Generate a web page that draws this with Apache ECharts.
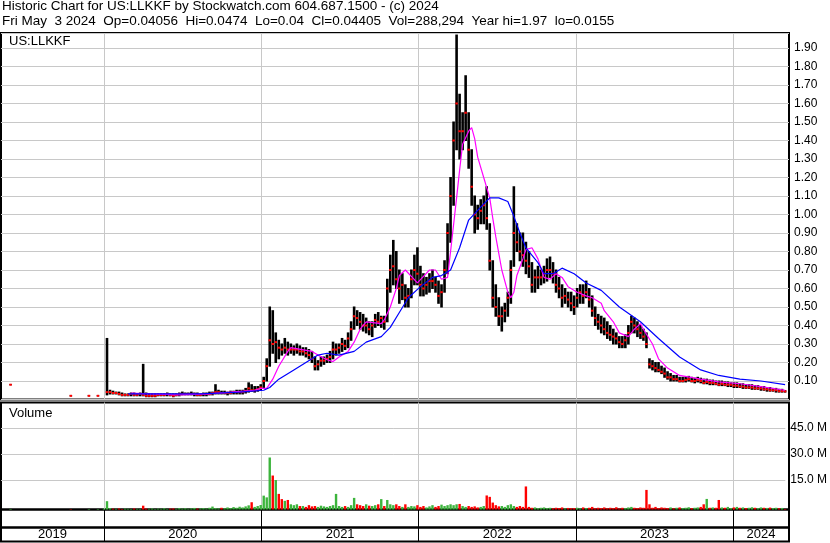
<!DOCTYPE html>
<html>
<head>
<meta charset="utf-8">
<script src="https://cdn.jsdelivr.net/npm/echarts@6/dist/echarts.min.js"></script>
<style>
body { margin: 0; background: #fff; }
#main { width: 830px; height: 543px; }
</style>
</head>
<body>
<div id="main"></div>
<script>
// weekly bars, week 0 = week of 2019-05-06 (plotted on the Wednesday)
var weekHi = [
  null,null,null,0.08,null,null,null,null,null,null,
  null,null,null,null,null,null,null,null,null,null,
  null,null,null,0.02,null,null,null,null,null,0.02,
  null,null,0.02,null,null,0.33,0.05,0.045,0.04,0.04,
  0.035,0.03,0.03,0.035,0.035,0.03,0.035,0.19,0.035,0.03,
  0.03,0.03,0.03,0.03,0.03,0.035,0.03,0.03,0.03,0.035,
  0.04,0.035,0.035,0.04,0.035,0.035,0.03,0.035,0.035,0.04,
  0.04,0.08,0.05,0.045,0.045,0.04,0.045,0.045,0.05,0.05,
  0.05,0.06,0.09,0.08,0.07,0.07,0.08,0.12,0.22,0.50,
  0.48,0.36,0.32,0.30,0.33,0.31,0.30,0.29,0.30,0.29,
  0.28,0.28,0.27,0.26,0.23,0.21,0.23,0.23,0.24,0.26,
  0.31,0.30,0.30,0.33,0.32,0.36,0.42,0.50,0.48,0.47,
  0.46,0.44,0.42,0.42,0.46,0.47,0.45,0.45,0.65,0.78,
  0.86,0.80,0.70,0.68,0.62,0.60,0.70,0.78,0.82,0.72,
  0.68,0.66,0.68,0.70,0.66,0.64,0.62,0.75,0.95,1.20,
  1.50,1.97,1.65,1.55,1.75,1.55,1.35,1.10,1.05,1.08,
  1.10,1.15,0.95,0.75,0.62,0.55,0.50,0.52,0.58,0.75,
  1.15,0.95,0.90,0.90,0.85,0.80,0.74,0.70,0.72,0.70,
  0.72,0.76,0.77,0.74,0.70,0.66,0.62,0.60,0.58,0.58,
  0.56,0.60,0.62,0.62,0.64,0.60,0.56,0.50,0.46,0.45,
  0.44,0.42,0.40,0.38,0.36,0.34,0.34,0.35,0.40,0.45,
  0.44,0.42,0.40,0.38,0.36,0.22,0.21,0.20,0.20,0.18,
  0.17,0.15,0.14,0.13,0.13,0.12,0.12,0.12,0.125,0.12,
  0.115,0.12,0.115,0.11,0.11,0.105,0.105,0.10,0.10,0.10,
  0.095,0.095,0.09,0.09,0.09,0.085,0.085,0.08,0.08,0.08,
  0.075,0.075,0.07,0.07,0.065,0.065,0.06,0.06,0.055,0.055,0.0474
];
var weekLo = [
  null,null,null,0.08,null,null,null,null,null,null,
  null,null,null,null,null,null,null,null,null,null,
  null,null,null,0.02,null,null,null,null,null,0.02,
  null,null,0.02,null,null,0.025,0.03,0.03,0.03,0.025,
  0.02,0.02,0.02,0.02,0.02,0.02,0.02,0.02,0.015,0.015,
  0.015,0.015,0.02,0.02,0.02,0.02,0.02,0.015,0.02,0.02,
  0.025,0.025,0.025,0.025,0.02,0.02,0.02,0.02,0.02,0.025,
  0.025,0.03,0.03,0.03,0.03,0.025,0.03,0.03,0.03,0.03,
  0.03,0.035,0.04,0.045,0.04,0.045,0.05,0.06,0.10,0.18,
  0.25,0.20,0.22,0.24,0.25,0.24,0.25,0.24,0.25,0.24,
  0.24,0.23,0.22,0.20,0.16,0.16,0.18,0.19,0.20,0.20,
  0.22,0.24,0.25,0.26,0.27,0.28,0.32,0.38,0.40,0.38,
  0.37,0.36,0.35,0.34,0.39,0.40,0.39,0.38,0.42,0.58,
  0.62,0.60,0.52,0.54,0.50,0.50,0.55,0.62,0.62,0.56,
  0.56,0.57,0.58,0.60,0.58,0.52,0.50,0.58,0.68,0.85,
  1.05,1.35,1.30,1.35,1.40,1.25,1.05,0.90,0.92,0.95,
  0.95,0.92,0.70,0.50,0.45,0.40,0.37,0.42,0.45,0.52,
  0.72,0.80,0.75,0.72,0.68,0.66,0.58,0.58,0.60,0.62,
  0.63,0.64,0.66,0.63,0.58,0.55,0.50,0.52,0.50,0.48,
  0.46,0.50,0.52,0.52,0.55,0.50,0.45,0.40,0.38,0.36,
  0.35,0.33,0.32,0.30,0.30,0.28,0.28,0.28,0.30,0.36,
  0.36,0.34,0.33,0.32,0.28,0.17,0.16,0.15,0.15,0.14,
  0.12,0.11,0.10,0.10,0.10,0.095,0.095,0.095,0.10,0.095,
  0.09,0.095,0.09,0.085,0.085,0.08,0.08,0.08,0.075,0.075,
  0.075,0.07,0.07,0.065,0.065,0.065,0.06,0.06,0.06,0.055,
  0.055,0.055,0.05,0.05,0.045,0.045,0.045,0.04,0.04,0.04,0.04
];
var weekCl = [
  null,null,null,0.08,null,null,null,null,null,null,
  null,null,null,null,null,null,null,null,null,null,
  null,null,null,0.02,null,null,null,null,null,0.02,
  null,null,0.02,null,null,0.04,0.04,0.035,0.035,0.03,
  0.025,0.025,0.025,0.03,0.025,0.025,0.03,0.025,0.02,0.02,
  0.02,0.02,0.025,0.025,0.025,0.03,0.025,0.02,0.025,0.03,
  0.03,0.03,0.03,0.03,0.03,0.025,0.025,0.03,0.03,0.03,
  0.035,0.04,0.04,0.035,0.035,0.035,0.035,0.04,0.04,0.04,
  0.04,0.045,0.06,0.05,0.05,0.055,0.065,0.10,0.18,0.32,
  0.30,0.31,0.28,0.27,0.28,0.27,0.27,0.27,0.27,0.26,
  0.26,0.25,0.24,0.22,0.18,0.19,0.21,0.21,0.22,0.23,
  0.27,0.27,0.28,0.30,0.29,0.33,0.38,0.45,0.44,0.42,
  0.40,0.40,0.38,0.40,0.43,0.42,0.44,0.42,0.60,0.70,
  0.72,0.65,0.60,0.62,0.55,0.56,0.65,0.70,0.68,0.62,
  0.60,0.62,0.64,0.64,0.62,0.56,0.58,0.70,0.90,1.10,
  1.40,1.60,1.45,1.45,1.55,1.35,1.15,1.00,0.98,1.02,
  1.05,0.98,0.75,0.55,0.50,0.45,0.45,0.48,0.55,0.70,
  0.90,0.85,0.80,0.78,0.75,0.72,0.62,0.66,0.66,0.66,
  0.68,0.70,0.70,0.68,0.62,0.60,0.55,0.56,0.54,0.52,
  0.50,0.55,0.58,0.56,0.58,0.54,0.48,0.44,0.42,0.40,
  0.38,0.36,0.35,0.34,0.33,0.31,0.30,0.32,0.36,0.42,
  0.40,0.38,0.36,0.34,0.30,0.19,0.18,0.17,0.16,0.15,
  0.14,0.12,0.12,0.11,0.11,0.10,0.10,0.105,0.11,0.10,
  0.10,0.105,0.10,0.09,0.095,0.09,0.09,0.085,0.08,0.085,
  0.08,0.08,0.08,0.075,0.075,0.07,0.07,0.065,0.065,0.065,
  0.06,0.06,0.06,0.055,0.055,0.05,0.05,0.05,0.045,0.045,0.04405
];
// volume, millions (tallest daily bar of the week)
var weekVol = [
  0,0,0,0.3,0,0,0,0,0,0,
  0,0,0,0,0,0,0,0,0,0,
  0,0,0,0.2,0,0,0,0,0,0.3,
  0,0,0.3,0,0.5,4.8,0.8,0.5,0.4,0.6,
  0.3,0.5,0.4,0.3,0.6,0.4,0.3,2.2,0.5,0.4,
  0.6,0.3,0.5,0.4,0.7,0.3,0.5,0.6,0.4,0.8,
  0.5,0.7,0.4,0.6,0.9,0.5,0.6,0.8,0.5,1.0,
  1.7,0.8,0.6,1.0,0.7,1.2,0.8,1.4,1.0,1.6,
  1.2,1.8,2.4,4.2,1.5,2.0,2.6,8.0,7.0,30.0,
  19.6,17.0,9.0,6.0,5.0,5.5,3.0,2.5,3.0,2.0,
  2.0,1.5,2.5,1.8,2.0,1.5,2.2,1.8,1.5,2.0,
  2.5,9.0,2.0,1.5,2.0,1.5,2.5,6.7,3.0,2.5,
  2.0,3.0,2.2,2.0,2.5,3.0,6.0,2.0,5.5,3.0,
  2.5,3.0,2.0,1.5,3.0,1.5,2.0,1.8,2.5,1.5,
  2.0,1.2,1.8,2.5,1.5,2.0,2.8,2.0,2.5,3.0,
  2.5,3.0,3.2,2.0,1.5,2.0,1.5,1.8,1.2,1.5,
  2.0,8.1,7.3,4.0,2.5,1.8,2.0,1.5,2.5,3.0,
  2.0,1.5,2.0,1.5,13.3,1.5,1.0,1.2,0.8,1.0,
  1.2,0.8,1.0,0.7,1.0,0.8,1.2,0.6,0.9,0.7,
  0.8,1.0,0.6,1.2,0.8,1.0,1.5,0.7,1.0,0.8,
  1.2,0.7,1.0,0.8,1.3,0.6,1.0,0.8,1.2,1.5,
  1.0,0.8,1.2,1.0,11.3,3.0,1.0,1.5,0.8,1.2,
  1.0,0.8,1.2,0.7,1.0,1.2,0.8,1.0,1.3,0.8,
  1.0,1.2,1.5,3.0,6.1,1.0,1.2,1.0,5.5,1.2,
  1.0,1.5,0.8,1.2,1.5,1.0,1.2,0.8,1.0,1.3,
  1.0,0.8,1.2,1.0,0.9,1.1,0.8,1.0,0.7,0.9,0.3
];
// moving averages (week index, price)
var pinkWeek = [43,49,59,69,76,84,86,88,90,92,95,96,103,105,108,110,112,115,117,119,121,126,127,129,131,132,134,138,142,144,146,148,149,151,152,153,155,156,157,158,160,162,163,164,166,168,169,170,171,173,174,176,178,180,182,184,186,188,191,194,196,199,200,203,205,208,210,212,213,216,218,221,225,232,238,245,252,260];
var pinkVal = [0.035,0.03,0.025,0.03,0.04,0.05,0.06,0.06,0.11,0.18,0.26,0.28,0.26,0.24,0.215,0.205,0.23,0.26,0.31,0.38,0.42,0.41,0.43,0.50,0.60,0.67,0.70,0.63,0.70,0.70,0.65,0.66,0.80,1.09,1.24,1.38,1.45,1.47,1.41,1.31,1.20,1.09,0.98,0.88,0.70,0.58,0.55,0.58,0.67,0.76,0.81,0.82,0.76,0.66,0.65,0.68,0.66,0.61,0.58,0.56,0.55,0.52,0.48,0.42,0.36,0.34,0.38,0.41,0.38,0.30,0.22,0.17,0.13,0.11,0.095,0.085,0.07,0.05];
var blueWeek = [42,66,79,87,89,92,97,101,105,108,112,117,121,126,129,132,135,139,143,146,149,152,155,159,162,165,168,170,172,174,178,180,183,186,190,194,199,205,212,218,225,232,238,245,252,260];
var blueVal = [0.03,0.03,0.04,0.05,0.065,0.11,0.16,0.20,0.24,0.25,0.24,0.26,0.31,0.34,0.39,0.47,0.55,0.61,0.66,0.67,0.70,0.82,0.97,1.04,1.09,1.09,1.07,0.99,0.90,0.82,0.74,0.68,0.68,0.71,0.68,0.63,0.59,0.50,0.42,0.33,0.23,0.16,0.13,0.11,0.10,0.08];
var yearNames = ['2019','2020','2021','2022','2023','2024'];
var volTicks = [15, 30, 45];

var DAY = 86400000;
var firstWeek = Date.UTC(2019, 4, 8);
function weekTime(i) { return firstWeek + i * 7 * DAY; }
var xMin = Date.UTC(2019, 4, 6, 19);
var xMax = Date.UTC(2024, 4, 10, 2);

var yearStarts = [];
var yearMids = [];
yearNames.forEach(function (y) {
  var s = Math.max(Date.UTC(+y, 0, 1), xMin);
  var e = Math.min(Date.UTC(+y + 1, 0, 1), xMax);
  if (+y > 2019) yearStarts.push(Date.UTC(+y, 0, 1));
  yearMids.push((s + e) / 2);
});

var priceData = [];
var volData = [];
var lastCl = null;
for (var i = 0; i < weekHi.length; i++) {
  var t = weekTime(i);
  if (weekHi[i] != null) priceData.push([t, weekHi[i], weekLo[i], weekCl[i]]);
  var up = true;
  if (weekCl[i] != null) {
    if (lastCl != null && weekCl[i] < lastCl) up = false;
    lastCl = weekCl[i];
  }
  if (weekVol[i] > 0) {
    volData.push({ value: [t, weekVol[i]], itemStyle: { color: up ? '#3cb43c' : '#ff0000' } });
  }
}
var pinkData = pinkWeek.map(function (w, k) { return [weekTime(w), pinkVal[k]]; });
var blueData = blueWeek.map(function (w, k) { return [weekTime(w), blueVal[k]]; });

var FONT = 'Liberation Sans, Arial, sans-serif';
var GRIDC = '#c8c8c8';

// x axes are plain value axes holding UTC timestamps
function dateAxis(gi, splitColor, labels) {
  var ax = {
    type: 'value', gridIndex: gi, min: xMin, max: xMax,
    axisLine: { show: false },
    axisTick: { show: false, customValues: yearStarts },
    splitLine: { show: !!splitColor, lineStyle: { color: splitColor || '#000', width: 1 } },
    axisLabel: { show: false }
  };
  if (labels) {
    ax.axisLabel = {
      show: true, inside: true, margin: 0, customValues: yearMids,
      formatter: function (v) { return String(new Date(v).getUTCFullYear()); },
      color: '#000', fontSize: 13, fontFamily: FONT, verticalAlign: 'bottom', lineHeight: 14
    };
  }
  return ax;
}
function hiddenY(gi, max) {
  return { type: 'value', gridIndex: gi, min: 0, max: max, show: false, splitLine: { show: false } };
}

var myChart = echarts.init(document.getElementById('main'));
var titleStyle = { fontSize: 13, fontWeight: 'normal', color: '#000', fontFamily: FONT };
var headStyle = { fontSize: 13.5, fontWeight: 'normal', color: '#000', fontFamily: FONT };
var option = {
  animation: false,
  backgroundColor: '#fff',
  title: [
    { text: 'Historic Chart for US:LLKKF by Stockwatch.com 604.687.1500 - (c) 2024', left: 2, top: -1, padding: 0, textStyle: headStyle },
    { text: 'Fri May  3 2024  Op=0.04056  Hi=0.0474  Lo=0.04  Cl=0.04405  Vol=288,294  Year hi=1.97  lo=0.0155', left: 2, top: 14, padding: 0, textStyle: headStyle },
    { text: 'US:LLKKF', left: 9, top: 35, padding: 0, textStyle: titleStyle },
    { text: 'Volume', left: 9, top: 407, padding: 0, textStyle: titleStyle }
  ],
  grid: [
    { left: 1, right: 41, top: 33, height: 366.5, show: true, borderColor: '#000', borderWidth: 2, backgroundColor: 'transparent' },
    { left: 1, right: 41, top: 402.5, height: 107, show: true, borderColor: '#000', borderWidth: 2, backgroundColor: 'transparent' },
    { left: 1, right: 41, top: 402.5, height: 103.5, show: false },
    { left: 1, right: 41, top: 509.5, height: 18, show: true, borderColor: '#000', borderWidth: 2, backgroundColor: 'transparent' },
    { left: 1, right: 41, top: 527.5, height: 14, show: true, borderColor: '#000', borderWidth: 2, backgroundColor: 'transparent' }
  ],
  xAxis: [
    dateAxis(0, GRIDC, false),
    dateAxis(1, GRIDC, false),
    dateAxis(2, null, false),
    dateAxis(3, '#000', false),
    dateAxis(4, '#000', true)
  ],
  yAxis: [
    {
      type: 'value', gridIndex: 0, position: 'right', min: 0, max: 1.981, interval: 0.1,
      axisLine: { show: false }, axisTick: { show: false },
      splitLine: { lineStyle: { color: GRIDC, width: 1 } },
      axisLabel: {
        margin: 5, color: '#000', fontSize: 12, fontFamily: FONT,
        formatter: function (v) { return (v < 0.05 || v > 1.95) ? '' : v.toFixed(2); }
      }
    },
    hiddenY(1, 61.73),
    {
      type: 'value', gridIndex: 2, position: 'right', min: 0, max: 59.7,
      axisLine: { show: false },
      axisTick: { show: false, customValues: volTicks },
      splitLine: { show: true, lineStyle: { color: GRIDC, width: 1 } },
      axisLabel: {
        customValues: volTicks, margin: 5, color: '#000', fontSize: 12, fontFamily: FONT,
        formatter: function (v) { return v.toFixed(1) + ' M'; }
      }
    },
    hiddenY(3, 1),
    hiddenY(4, 1)
  ],
  series: [
    {
      type: 'custom', xAxisIndex: 0, yAxisIndex: 0, data: priceData,
      encode: { x: 0, y: [1, 2, 3] },
      renderItem: function (params, api) {
        var t = api.value(0);
        var hi = api.coord([t, api.value(1)]);
        var lo = api.coord([t, api.value(2)]);
        var cl = api.coord([t, api.value(3)]);
        return {
          type: 'group',
          children: [
            { type: 'line', shape: { x1: hi[0], y1: hi[1] - 0.5, x2: lo[0], y2: lo[1] + 0.5 }, style: { stroke: '#000', lineWidth: 2.6 } },
            { type: 'rect', shape: { x: cl[0] - 1.25, y: cl[1] - 1, width: 2.5, height: 2 }, style: { fill: '#ff0000' } }
          ]
        };
      }
    },
    {
      type: 'line', xAxisIndex: 0, yAxisIndex: 0, data: pinkData, symbol: 'none',
      lineStyle: { color: '#ff00ff', width: 1.2 }
    },
    {
      type: 'line', xAxisIndex: 0, yAxisIndex: 0, data: blueData, symbol: 'none',
      lineStyle: { color: '#0000ff', width: 1.2 }
    },
    {
      type: 'bar', xAxisIndex: 1, yAxisIndex: 1, data: volData, barWidth: 2.4
    }
  ]
};
myChart.setOption(option);
</script>
</body>
</html>
